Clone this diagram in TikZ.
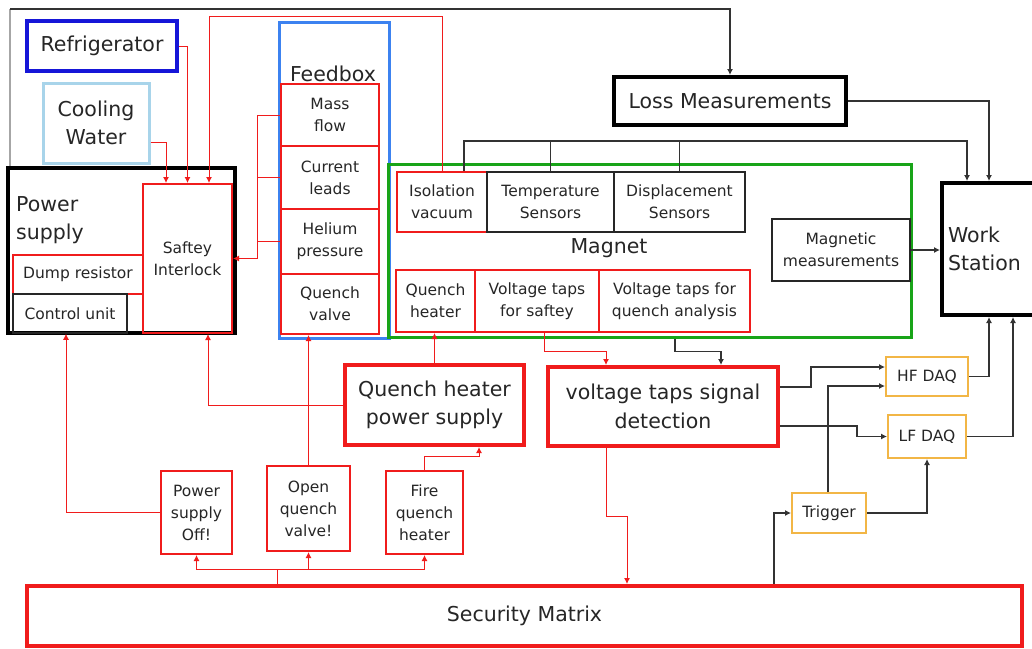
\documentclass[tikz,border=0pt]{standalone}
\usepackage{fontspec}
\setmainfont{DejaVu Sans}
\usetikzlibrary{arrows.meta}

\definecolor{wred}{HTML}{F01C1C}
\definecolor{fridge}{HTML}{1616D8}
\definecolor{water}{HTML}{A8D4EA}
\definecolor{fbblue}{HTML}{3C82F0}
\definecolor{mgreen}{HTML}{18A418}
\definecolor{daq}{HTML}{F2B646}
\definecolor{txt}{HTML}{262626}

\begin{document}
\begin{tikzpicture}[x=1pt,y=-1pt,
  wh/.style 2 args={minimum width=#1pt,minimum height=#2pt},
  box/.style={draw,rectangle,inner sep=0pt,align=center,text=txt},
  big/.style={font=\fontsize{20.5}{28.5}\selectfont},
  small/.style={font=\fontsize{15.5}{22}\selectfont},
  rbox/.style={box,small,draw=wred,line width=2pt},
  kbox/.style={box,small,draw=black!85,line width=1.5pt},
  rline/.style={draw=wred,line width=1pt},
  kline/.style={draw=black!80,line width=1.1pt},
  >={Latex[length=6pt,width=6pt]}]
\fill[white] (0,0) rectangle (1032,648);
\useasboundingbox (0,0) rectangle (1032,648);
\clip (0,0) rectangle (1032,648);

% supply side
\node[box,big,draw=fridge,line width=4pt,wh={150}{50}] (refrig) at (102,46) {Refrigerator};
\node[box,big,draw=water,line width=3pt,wh={106}{80}] (cooling) at (96,123) {Cooling\\Water};
\node[box,draw=black,line width=4pt,wh={227}{165}] (psupply) at (121.5,250.5) {};
\node[big,align=left,anchor=west,inner sep=0pt,text=txt] (pslabel) at (16,220) {Power\\supply};
\node[rbox,wh={89}{149}] (safety) at (187.5,258.5) {Saftey\\Interlock};
\node[rbox,wh={130}{39}] (dump) at (78,274.5) {Dump resistor};
\node[kbox,wh={114}{39}] (control) at (70,313.5) {Control unit};

% feedbox
\node[box,draw=fbblue,line width=3pt,wh={110}{316}] (feedbox) at (334,180) {};
\node[big,text=txt] (fblabel) at (333,74) {Feedbox};
\node[rbox,wh={98}{62}] (massflow) at (330,115) {Mass\\flow};
\node[rbox,wh={98}{63}] (current) at (330,177.5) {Current\\leads};
\node[rbox,wh={98}{65}] (helium) at (330,241.5) {Helium\\pressure};
\node[rbox,wh={98}{60}] (qvalve) at (330,304) {Quench\\valve};

% magnet
\node[box,draw=mgreen,line width=3pt,wh={523}{173}] (magnet) at (649.5,250.5) {};
\node[big,text=txt] (maglabel) at (609,248) {Magnet};
\node[rbox,wh={90}{60}] (isolation) at (442,202) {Isolation\\vacuum};
\node[kbox,wh={127}{60}] (temp) at (550.5,202) {Temperature\\Sensors};
\node[kbox,wh={131}{60}] (disp) at (679.5,202) {Displacement\\Sensors};
\node[kbox,wh={138}{62}] (magmeas) at (841,250) {Magnetic\\measurements};
\node[rbox,wh={79}{62}] (qheater) at (435.5,301) {Quench\\heater};
\node[rbox,wh={124}{62}] (vtsafety) at (537,301) {Voltage taps\\for saftey};
\node[rbox,wh={151}{62}] (vtquench) at (674.5,301) {Voltage taps for\\quench analysis};

% measurement side
\node[box,big,draw=black,line width=4pt,wh={232}{48}] (loss) at (730,101) {Loss Measurements};
\node[box,big,draw=black,line width=4pt,wh={118}{132},text width=106pt,align=left] (work) at (1001,249) {Work\\Station};
\node[box,small,draw=daq,line width=2pt,wh={82}{39}] (hfdaq) at (927,376.5) {HF DAQ};
\node[box,small,draw=daq,line width=2pt,wh={78}{43}] (lfdaq) at (927,436.5) {LF DAQ};
\node[box,small,draw=daq,line width=2pt,wh={74}{40}] (trigger) at (829,513) {Trigger};

% protection
\node[box,big,draw=wred,line width=4pt,wh={179}{80}] (qhps) at (434.5,405) {Quench heater\\power supply};
\node[box,big,draw=wred,line width=4pt,wh={230}{79}] (vtsd) at (663,406.5) {voltage taps signal\\detection};
\node[rbox,wh={71}{83}] (psoff) at (196.5,512.5) {Power\\supply\\Off!};
\node[rbox,wh={83}{85}] (openqv) at (308.5,508.5) {Open\\quench\\valve!};
\node[rbox,wh={77}{83}] (fireqh) at (424.5,512.5) {Fire\\quench\\heater};
\node[box,big,draw=wred,line width=4pt,wh={995}{60}] (secmat) at (524.5,616) {Security Matrix};

\coordinate (topleft) at (10,9);
\coordinate (redtop) at (209,16);
\coordinate (fbus) at (257,258.5);
\coordinate (sbus) at (277,569);

% black connectors
\draw[draw=gray!70,line width=2.5pt] (topleft |- psupply.north) -- (topleft);
\draw[kline,line width=2pt,->] (topleft) -| (loss.north);
\draw[kline,->] (loss.east) -| ([xshift=-12pt]work.north);
\draw[kline,->] ([xshift=22pt]isolation.north) -- ++(0,-30) -| ([xshift=-34pt]work.north);
\draw[kline] (temp.north) -- ++(0,-30);
\draw[kline] (disp.north) -- ++(0,-30);
\draw[kline,->] (magmeas.east) -- (work.west |- magmeas.east);
\draw[kline,->] ([xshift=25.5pt]magnet.south) -- ++(0,13) -| ([xshift=58pt]vtsd.north);
\draw[kline,->] ([yshift=19.5pt]vtsd.east) -- ++(31,0) |- ([yshift=9.5pt]hfdaq.west);
\draw[kline,->] ([yshift=-19.5pt]vtsd.east) -- ++(77,0) |- (lfdaq.west);
\draw[kline,->] ([xshift=-1pt]trigger.north) |- ([yshift=-9.5pt]hfdaq.west);
\draw[kline,->] (trigger.east) -| (lfdaq.south);
\draw[kline,->] ([xshift=249.5pt]secmat.north) |- (trigger.west);
\draw[kline,->] (hfdaq.east) -| ([xshift=-12pt]work.south);
\draw[kline,->] (lfdaq.east) -| ([xshift=12pt]work.south);

% red connectors
\draw[rline,->] (refrig.east) -| (safety.north);
\draw[rline,->] ([yshift=-19pt]cooling.east) -| ([xshift=-21.5pt]safety.north);
\draw[rline,->] (isolation.north) |- (redtop) -- (redtop |- safety.north);
\draw[rline,->] (massflow.west) -| (fbus) -- (safety.east);
\draw[rline] (current.west) -- (current.west -| fbus);
\draw[rline] (helium.west) -- (helium.west -| fbus);
\draw[rline,->] (qhps.north) -- (qhps.north |- qheater.south);
\draw[rline,->] (qhps.west) -| ([xshift=20.5pt]safety.south);
\draw[rline,->] (openqv.north) -- (openqv.north |- qvalve.south);
\draw[rline,->] (psoff.west) -| ([xshift=-4pt]control.south);
\draw[rline,->] (fireqh.north) -- ++(0,-14) -| ([xshift=44.5pt]qhps.south);
\draw[rline] (sbus |- secmat.north) -- (sbus);
\draw[rline,->] (sbus) -| (psoff.south);
\draw[rline,->] (sbus) -| (openqv.south);
\draw[rline,->] (sbus) -| (fireqh.south);
\draw[rline,->] ([xshift=7pt]vtsafety.south) -- ++(0,18) -| ([xshift=-57pt]vtsd.north);
\draw[rline,->] ([xshift=-57pt]vtsd.south) -- ++(0,68) -| ([xshift=102.5pt]secmat.north);
\end{tikzpicture}
\end{document}
